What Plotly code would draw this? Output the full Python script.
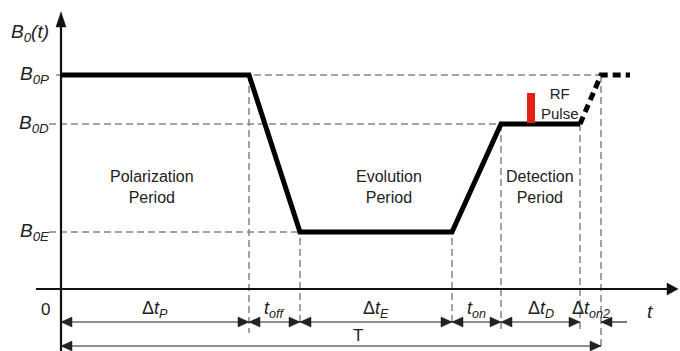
import plotly.graph_objects as go

# ---- timing diagram values (x: time units, y: field units) ----
# boundaries: start, end of polarization, end of t_off, end of evolution,
# end of t_on, end of detection, end of t_on2
stage_times = [0, 188, 239, 391, 440, 519, 540]
B0P, B0D, B0E = 214, 165, 57

wave_t = [0, 188, 239, 391, 440, 519]
wave_b = [B0P, B0P, B0E, B0E, B0D, B0D]
next_t = [519, 540, 569]
next_b = [B0D, B0P, B0P]

span_labels = ["Δ<i>t<sub>P</sub></i>", "<i>t<sub>off</sub></i>", "Δ<i>t<sub>E</sub></i>",
               "<i>t<sub>on</sub></i>", "Δ<i>t<sub>D</sub></i>", "Δ<i>t<sub>on2</sub></i>"]
level_labels = ["<i>B<sub>0P</sub></i>", "<i>B<sub>0D</sub></i>", "<i>B<sub>0E</sub></i>"]
period_labels = ["Polarization<br>Period", "Evolution<br>Period", "Detection<br>Period"]
period_x = [91, 328, 479]
rf_t = [466, 474]
rf_b = [B0D + 1, 196]

X0, X1 = -61, 619
Y0, Y1 = -62, 289
ROW1, ROW2 = -33, -57
DASH = "7px,4px"
GREY = "#858585"
INK = "#222222"
FONT = "Liberation Sans, Arial, sans-serif"

fig = go.Figure()
shapes = []
ann = []


def seg(xa, ya, xb, yb, color=INK, width=1.2, dash="solid"):
    shapes.append(dict(type="line", x0=xa, y0=ya, x1=xb, y1=yb, xref="x", yref="y",
                       line=dict(color=color, width=width, dash=dash), layer="below"))


def head(tx, ty, direction, length=11, half=5, color=INK):
    dx, dy = {"left": (1, 0), "right": (-1, 0), "up": (0, -1)}[direction]
    bx, by = tx + dx * length, ty + dy * length
    px, py = -dy * half, dx * half
    path = f"M{tx},{ty} L{bx + px},{by + py} L{bx - px},{by - py} Z"
    shapes.append(dict(type="path", path=path, xref="x", yref="y",
                       fillcolor=color, line=dict(color=color, width=0.5)))


# horizontal reference levels
seg(-5, B0P, stage_times[6], B0P, GREY, 1.5, DASH)
seg(-12, B0D, stage_times[4], B0D, GREY, 1.5, DASH)
seg(-12, B0E, stage_times[2], B0E, GREY, 1.5, DASH)

# vertical boundaries
v_top = [B0P, B0E - 6, B0E - 6, B0D, B0D, B0P]
v_bot = [-44, -37, -37, -43, -43, ROW2]
for t, a, b in zip(stage_times[1:], v_top, v_bot):
    seg(t, a, t, b, GREY, 1.5, DASH)

# axes
seg(0, Y0, 0, 263, "#111111", 2.2)
head(0, 277, "up", length=15, half=5, color="#111111")
seg(-25, 0, 606, 0, "#111111", 2.2)
head(617, 0, "right", length=11, half=6, color="#111111")

# duration arrows
for a, b in zip(stage_times[:5], stage_times[1:6]):
    seg(a, ROW1, b, ROW1)
    head(a, ROW1, "left")
    head(b, ROW1, "right")
seg(stage_times[6], ROW1, 566, ROW1)
head(stage_times[6], ROW1, "left")
seg(stage_times[0], ROW2, stage_times[6], ROW2)
head(stage_times[0], ROW2, "left")
head(stage_times[6], ROW2, "right")

# RF pulse
shapes.append(dict(type="rect", x0=rf_t[0], x1=rf_t[1], y0=rf_b[0], y1=rf_b[1],
                   xref="x", yref="y", fillcolor="#e2231a", line=dict(width=0)))

# field waveform
fig.add_trace(go.Scatter(x=wave_t, y=wave_b, mode="lines",
                         line=dict(color="black", width=5), hoverinfo="skip"))
fig.add_trace(go.Scatter(x=next_t, y=next_b, mode="lines",
                         line=dict(color="black", width=5, dash="8px,5px"), hoverinfo="skip"))


def text(x, y, s, size, xanchor="center"):
    ann.append(dict(x=x, y=y, text=s, showarrow=False, xref="x", yref="y",
                    xanchor=xanchor, yanchor="middle",
                    font=dict(family=FONT, size=size, color=INK)))


text(-10, 256, "<i>B<sub>0</sub>(t)</i>", 19, "right")
for lab, lev in zip(level_labels, [B0P, B0D, B0E]):
    text(-10, lev, lab, 19, "right")
for lab, px in zip(period_labels, period_x):
    text(px, 102, lab, 16)
text(499, 186, "RF<br>Pulse", 15)

mids = [(a + b) / 2 for a, b in zip(stage_times[:6], stage_times[1:])]
for lab, m in zip(span_labels, mids):
    text(m, -20, lab, 18)
text(-16, -20, "0", 17)
text(589, -22, "<i>t</i>", 19)
text(297, -46, "T", 17)

fig.update_layout(
    width=680, height=351,
    margin=dict(l=0, r=0, t=0, b=0),
    paper_bgcolor="white", plot_bgcolor="white",
    showlegend=False,
    shapes=shapes, annotations=ann,
    xaxis=dict(range=[X0, X1], visible=False, fixedrange=True),
    yaxis=dict(range=[Y0, Y1], visible=False, fixedrange=True),
)

fig.write_html("out.html")
